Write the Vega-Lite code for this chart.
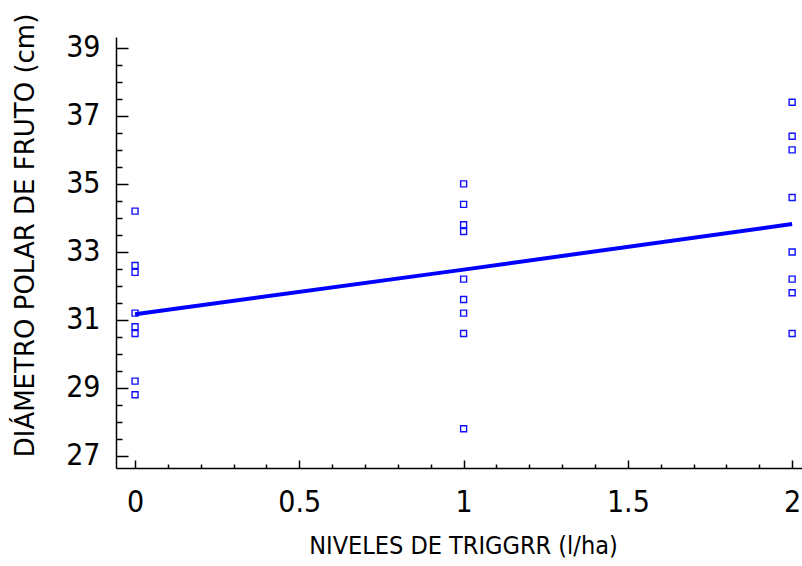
{
  "$schema": "https://vega.github.io/schema/vega-lite/v6.json",
  "width": 686,
  "height": 431,
  "autosize": {"type": "none"},
  "padding": {"left": 116, "top": 37, "right": 0, "bottom": 98},
  "background": "white",
  "config": {"view": {"stroke": null}, "axis": {"grid": false}},
  "datasets": {
    "pts": [
      {"x": 0, "y": 34.2}, {"x": 0, "y": 32.6}, {"x": 0, "y": 32.4}, {"x": 0, "y": 31.2},
      {"x": 0, "y": 30.8}, {"x": 0, "y": 30.6}, {"x": 0, "y": 29.2}, {"x": 0, "y": 28.8},
      {"x": 1, "y": 35.0}, {"x": 1, "y": 34.4}, {"x": 1, "y": 33.8}, {"x": 1, "y": 33.6},
      {"x": 1, "y": 32.2}, {"x": 1, "y": 31.6}, {"x": 1, "y": 31.2}, {"x": 1, "y": 30.6},
      {"x": 1, "y": 27.8},
      {"x": 2, "y": 37.4}, {"x": 2, "y": 36.4}, {"x": 2, "y": 36.0}, {"x": 2, "y": 34.6},
      {"x": 2, "y": 33.0}, {"x": 2, "y": 32.2}, {"x": 2, "y": 31.8}, {"x": 2, "y": 30.6}
    ],
    "fit": [
      {"x": 0, "y": 31.17}, {"x": 1, "y": 32.48}, {"x": 2, "y": 33.82}
    ]
  },
  "layer": [
    {
      "data": {"name": "pts"},
      "mark": {"type": "point", "shape": "square", "filled": false, "color": "#1010ff", "strokeWidth": 1.4, "size": 36, "opacity": 1},
      "encoding": {
        "x": {
          "field": "x", "type": "quantitative",
          "scale": {"domain": [-0.058, 2.03], "nice": false, "zero": false},
          "axis": {
            "orient": "bottom",
            "values": [0, 0.5, 1, 1.5, 2],
            "format": "~g",
            "tickSize": -8, "tickWidth": 1.5, "tickColor": "black",
            "domainColor": "black", "domainWidth": 1.5,
            "labelPadding": 27, "labelFont": "Liberation Sans Narrow, DejaVu Sans Condensed, Liberation Sans",
            "labelFontSize": 30, "labelColor": "black", "labelFlush": false, "labelOverlap": false,
            "title": "NIVELES DE TRIGGRR (l/ha)",
            "titleFont": "Liberation Sans Narrow, DejaVu Sans Condensed, Liberation Sans",
            "titleFontSize": 25, "titleFontWeight": "normal", "titleColor": "black",
            "titleX": 347, "titleY": 85, "titleBaseline": "alphabetic", "titleAlign": "center"
          }
        },
        "y": {
          "field": "y", "type": "quantitative",
          "scale": {"domain": [26.647, 39.32], "nice": false, "zero": false},
          "axis": {
            "orient": "left",
            "values": [27, 29, 31, 33, 35, 37, 39],
            "tickSize": -12, "tickWidth": 1.5, "tickColor": "black",
            "domainColor": "black", "domainWidth": 1.5,
            "labelPadding": 28, "labelFont": "Liberation Sans Narrow, DejaVu Sans Condensed, Liberation Sans",
            "labelFontSize": 30, "labelColor": "black", "labelOverlap": false, "labelFlush": false,
            "title": "DIÁMETRO POLAR DE FRUTO (cm)",
            "titleFont": "DejaVu Sans", "titleFontSize": 26, "titleFontWeight": "normal", "titleColor": "black",
            "titleAngle": -90, "titleX": -83, "titleY": 198, "titleBaseline": "alphabetic", "titleAlign": "center"
          }
        }
      }
    },
    {
      "data": {"name": "fit"},
      "mark": {"type": "line", "color": "#0000ff", "strokeWidth": 4},
      "encoding": {
        "x": {
          "field": "x", "type": "quantitative",
          "axis": {
            "orient": "bottom",
            "values": [0.1, 0.2, 0.3, 0.4, 0.6, 0.7, 0.8, 0.9, 1.1, 1.2, 1.3, 1.4, 1.6, 1.7, 1.8, 1.9],
            "tickSize": -4, "tickWidth": 1.5, "tickColor": "black",
            "domain": false, "labels": false, "title": null
          }
        },
        "y": {
          "field": "y", "type": "quantitative",
          "axis": {
            "orient": "left",
            "values": [27.5, 28, 28.5, 29.5, 30, 30.5, 31.5, 32, 32.5, 33.5, 34, 34.5, 35.5, 36, 36.5, 37.5, 38, 38.5],
            "tickSize": -6, "tickWidth": 1.5, "tickColor": "black",
            "domain": false, "labels": false, "title": null
          }
        }
      }
    }
  ],
  "resolve": {"axis": {"x": "independent", "y": "independent"}}
}
